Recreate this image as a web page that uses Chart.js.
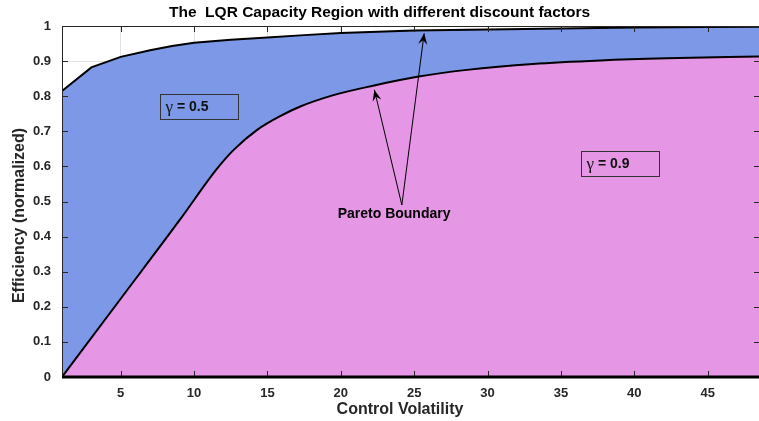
<!DOCTYPE html>
<html>
<head>
<meta charset="utf-8">
<script src="https://cdn.jsdelivr.net/npm/chart.js@4"></script>
<style>
  html, body { margin: 0; padding: 0; background: #fff; }
  #wrap { width: 759px; height: 421px; }
</style>
</head>
<body>
<div id="wrap"><canvas id="lqr-chart" width="759" height="421"></canvas></div>
<script>
// ======== data ========
const gammaLowX = [1, 3, 5, 7, 8.5, 10, 12.5, 15, 17.5, 20, 25, 30, 35, 40, 45, 48.5]
const gammaLowY = [0.815, 0.882, 0.912, 0.931, 0.943, 0.952, 0.961, 0.967, 0.974, 0.980, 0.987, 0.990, 0.993, 0.996, 0.997, 0.998]

const gammaHighX = [1, 5, 9, 11.5, 12.7, 14.3, 16, 17.2, 19.5, 22.2, 25.3, 28.6, 33.1, 37.7, 42.2, 48.5]
const gammaHighY = [0, 0.223, 0.446, 0.59, 0.647, 0.704, 0.746, 0.770, 0.803, 0.830, 0.856, 0.875, 0.892, 0.902, 0.908, 0.913]

const xTicks = [5, 10, 15, 20, 25, 30, 35, 40, 45]
const yTicks = [0, 0.1, 0.2, 0.3, 0.4, 0.5, 0.6, 0.7, 0.8, 0.9, 1]

const titleText = 'The  LQR Capacity Region with different discount factors'
const xLabel = 'Control Volatility'
const yLabel = 'Efficiency (normalized)'

// annotation anchors in data units
const boxLow = { x0: 7.68, x1: 13.02, y0: 0.806, y1: 0.735, text: '0.5' }
const boxHigh = { x0: 36.36, x1: 41.70, y0: 0.645, y1: 0.573, text: '0.9' }
const paretoTail = { x: 24.16, y: 0.490 }
const paretoHeads = [{ x: 22.29, y: 0.818 }, { x: 25.68, y: 0.979 }]
const paretoText = { x: 23.63, y: 0.464, text: 'Pareto Boundary' }

const FONT = '"Liberation Sans", Arial, Helvetica, sans-serif'
const AXIS_COLOR = '#262626'

const toPoints = (xs, ys) => xs.map((x, i) => ({ x: x, y: ys[i] }))

// draws a MATLAB style arrow head at (x, y) pointing away from (fx, fy)
function arrowHead(ctx, fx, fy, x, y) {
    const ang = Math.atan2(y - fy, x - fx)
    const len = 11, half = 4.5, back = 7
    ctx.save()
    ctx.translate(x, y)
    ctx.rotate(ang)
    ctx.beginPath()
    ctx.moveTo(0, 0)
    ctx.lineTo(-len, -half)
    ctx.lineTo(-back, 0)
    ctx.lineTo(-len, half)
    ctx.closePath()
    ctx.fill()
    ctx.restore()
}

// axes frame, inside ticks, labels and annotations
const decorations = {
    id: 'decorations',
    afterDatasetsDraw(chart) {
        const { ctx, chartArea: a, scales } = chart
        const xs = scales.x, ys = scales.y
        ctx.save()

        // frame
        ctx.strokeStyle = AXIS_COLOR
        ctx.lineWidth = 1
        ctx.beginPath()
        ctx.moveTo(a.left + 0.5, a.bottom)
        ctx.lineTo(a.left + 0.5, a.top + 0.5)
        ctx.lineTo(a.right, a.top + 0.5)
        ctx.stroke()

        // tick marks pointing inward
        ctx.beginPath()
        xTicks.forEach(v => {
            const px = Math.round(xs.getPixelForValue(v)) + 0.5
            ctx.moveTo(px, a.bottom); ctx.lineTo(px, a.bottom - 6)
            ctx.moveTo(px, a.top); ctx.lineTo(px, a.top + 6)
        })
        yTicks.forEach(v => {
            const py = Math.round(ys.getPixelForValue(v)) + 0.5
            ctx.moveTo(a.left, py); ctx.lineTo(a.left + 6, py)
            ctx.moveTo(a.right, py); ctx.lineTo(a.right - 5, py)
        })
        ctx.stroke()

        // thick bottom axis
        ctx.strokeStyle = '#000'
        ctx.lineWidth = 3
        ctx.beginPath()
        ctx.moveTo(a.left, a.bottom)
        ctx.lineTo(a.right, a.bottom)
        ctx.stroke()

        // gamma boxes
        ;[boxLow, boxHigh].forEach(b => {
            const x0 = Math.round(xs.getPixelForValue(b.x0)) + 0.5
            const x1 = Math.round(xs.getPixelForValue(b.x1)) + 0.5
            const y0 = Math.round(ys.getPixelForValue(b.y0)) + 0.5
            const y1 = Math.round(ys.getPixelForValue(b.y1)) + 0.5
            ctx.strokeStyle = '#333'
            ctx.lineWidth = 1
            ctx.strokeRect(x0, y0, x1 - x0, y1 - y0)
            const cy = (y0 + y1) / 2
            ctx.fillStyle = '#111'
            ctx.textBaseline = 'middle'
            ctx.textAlign = 'left'
            ctx.font = '17px "Liberation Serif", "Times New Roman", serif'
            ctx.fillText('\u03b3', x0 + 5, cy + 1)
            const gw = ctx.measureText('\u03b3').width
            ctx.font = 'bold 14px ' + FONT
            ctx.fillText(' = ' + b.text, x0 + 5 + gw, cy)
        })

        // pareto arrows
        const tx = xs.getPixelForValue(paretoTail.x), ty = ys.getPixelForValue(paretoTail.y)
        ctx.strokeStyle = '#000'
        ctx.fillStyle = '#000'
        ctx.lineWidth = 1
        paretoHeads.forEach(h => {
            const hx = xs.getPixelForValue(h.x), hy = ys.getPixelForValue(h.y)
            ctx.beginPath()
            ctx.moveTo(tx, ty)
            ctx.lineTo(hx, hy)
            ctx.stroke()
            arrowHead(ctx, tx, ty, hx, hy)
        })
        ctx.font = 'bold 14px ' + FONT
        ctx.textAlign = 'center'
        ctx.textBaseline = 'middle'
        ctx.fillText(paretoText.text, xs.getPixelForValue(paretoText.x), ys.getPixelForValue(paretoText.y))

        ctx.restore()
    },
    afterDraw(chart) {
        // axis titles, placed where the original figure had them
        const { ctx } = chart
        ctx.save()
        ctx.fillStyle = AXIS_COLOR
        ctx.font = 'bold 16px ' + FONT
        ctx.textAlign = 'center'
        ctx.textBaseline = 'middle'
        ctx.fillText(xLabel, 400, 410)
        ctx.translate(19.5, 215.5)
        ctx.rotate(-Math.PI / 2)
        ctx.fillText(yLabel, 0, 0)
        ctx.restore()
    }
}

const ctx = document.getElementById('lqr-chart').getContext('2d')
new Chart(ctx, {
    type: 'line',
    data: {
        datasets: [
            {
                label: 'gamma = 0.9',
                data: toPoints(gammaHighX, gammaHighY),
                borderColor: '#000',
                borderWidth: 2,
                backgroundColor: '#E596E4',
                fill: 'origin',
                pointRadius: 0,
                cubicInterpolationMode: 'monotone'
            },
            {
                label: 'gamma = 0.5',
                data: toPoints(gammaLowX, gammaLowY),
                borderColor: '#000',
                borderWidth: 2,
                backgroundColor: '#7C98E6',
                fill: 'origin',
                pointRadius: 0,
                tension: 0
            }
        ]
    },
    options: {
        responsive: false,
        animation: false,
        events: [],
        layout: { padding: { left: 0, right: 0, top: 0, bottom: 0 } },
        plugins: {
            legend: { display: false },
            tooltip: { enabled: false },
            title: {
                display: true,
                text: titleText,
                color: '#000',
                font: { family: FONT, size: 15.5, weight: 'bold', lineHeight: 1.2 },
                padding: { top: 3, bottom: 4.4 }
            }
        },
        scales: {
            x: {
                type: 'linear',
                min: 1,
                max: 48.5,
                afterBuildTicks: s => { s.ticks = xTicks.map(v => ({ value: v })) },
                afterFit: s => { s.height = 44 },
                border: { display: false },
                grid: { color: '#e3e3e3', drawTicks: false },
                ticks: {
                    color: AXIS_COLOR,
                    padding: 9,
                    maxRotation: 0,
                    font: { family: FONT, size: 13, weight: 'bold' },
                    callback: v => String(v)
                }
            },
            y: {
                min: 0,
                max: 1,
                afterBuildTicks: s => { s.ticks = yTicks.map(v => ({ value: v })) },
                afterFit: s => { s.width = 62 },
                border: { display: false },
                grid: { color: '#e3e3e3', drawTicks: false },
                ticks: {
                    color: AXIS_COLOR,
                    padding: 11,
                    font: { family: FONT, size: 13, weight: 'bold' },
                    callback: v => String(+v.toFixed(1))
                }
            }
        }
    },
    plugins: [decorations]
})
</script>
</body>
</html>
